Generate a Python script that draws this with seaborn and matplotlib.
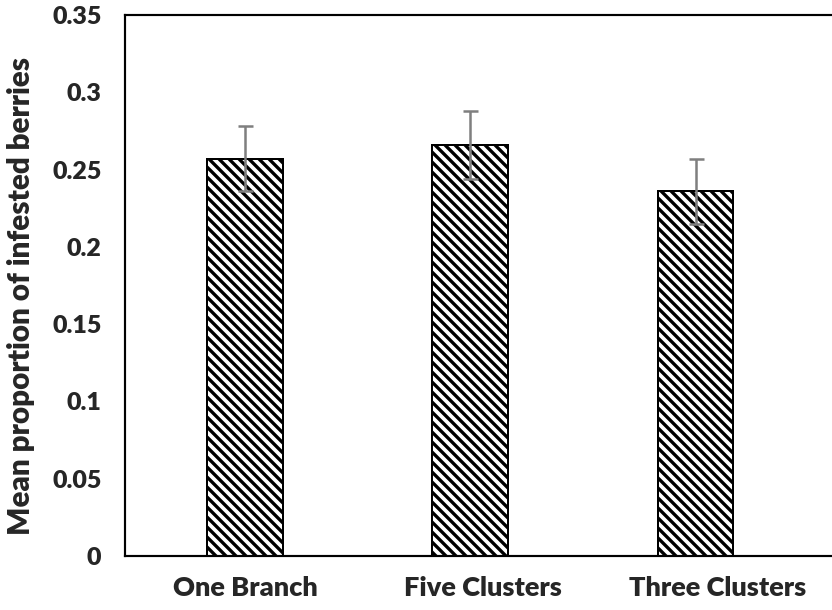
import matplotlib
matplotlib.use("Agg")
import matplotlib.pyplot as plt
import seaborn as sns

# Datos
categories = ["One Branch", "Five Clusters", "Three Clusters"]
means = [0.257, 0.266, 0.236]
errors = [0.021, 0.022, 0.021]
y_ticks = [0, 0.05, 0.1, 0.15, 0.2, 0.25, 0.3, 0.35]
y_tick_labels = ["0", "0.05", "0.1", "0.15", "0.2", "0.25", "0.3", "0.35"]

sns.set_style("white")
plt.rcParams["font.family"] = ["Lato", "DejaVu Sans"]
plt.rcParams["font.weight"] = "heavy"
plt.rcParams["hatch.linewidth"] = 2.0

fig = plt.figure(figsize=(832 / 120, 610 / 120), dpi=120)
ax = fig.add_axes([0.150, 0.0885, 0.86, 0.887])

# Barras con rayado
sns.barplot(x=categories, y=means, color="white", edgecolor="black",
            linewidth=1.2, width=0.337, errorbar=None, ax=ax)
for patch in ax.patches:
    patch.set_hatch("\\\\\\\\")
    patch.set_facecolor("white")

# Barras de error
ax.errorbar(range(len(categories)), means, yerr=errors, fmt="none",
            ecolor="#7f7f7f", elinewidth=1.5, capsize=4.5, capthick=1.5, zorder=5)

ax.set_ylim(0, 0.35)
ax.set_xlim(-0.535, 2.643)
ax.set_yticks(y_ticks)
ax.set_yticklabels(y_tick_labels)
# las etiquetas del eje x están un poco desplazadas en el original
ax.set_xticks([0, 1.055, 2.10])
ax.set_xticklabels(categories)
ax.tick_params(axis="y", direction="in", length=6, width=1.2, pad=14, labelsize=15)
ax.tick_params(axis="x", length=0, pad=12, labelsize=16.3)
for lab in ax.get_xticklabels() + ax.get_yticklabels():
    lab.set_fontweight("heavy")

ax.set_ylabel("Mean proportion of infested berries", fontsize=17.8,
              fontweight="heavy", labelpad=8)
ax.yaxis.set_label_coords(-0.125, 0.48)
ax.set_xlabel("")

for side in ["left", "top", "bottom"]:
    ax.spines[side].set_color("black")
    ax.spines[side].set_linewidth(1.3)
ax.spines["right"].set_visible(False)

fig.savefig("out.png", dpi=120)
